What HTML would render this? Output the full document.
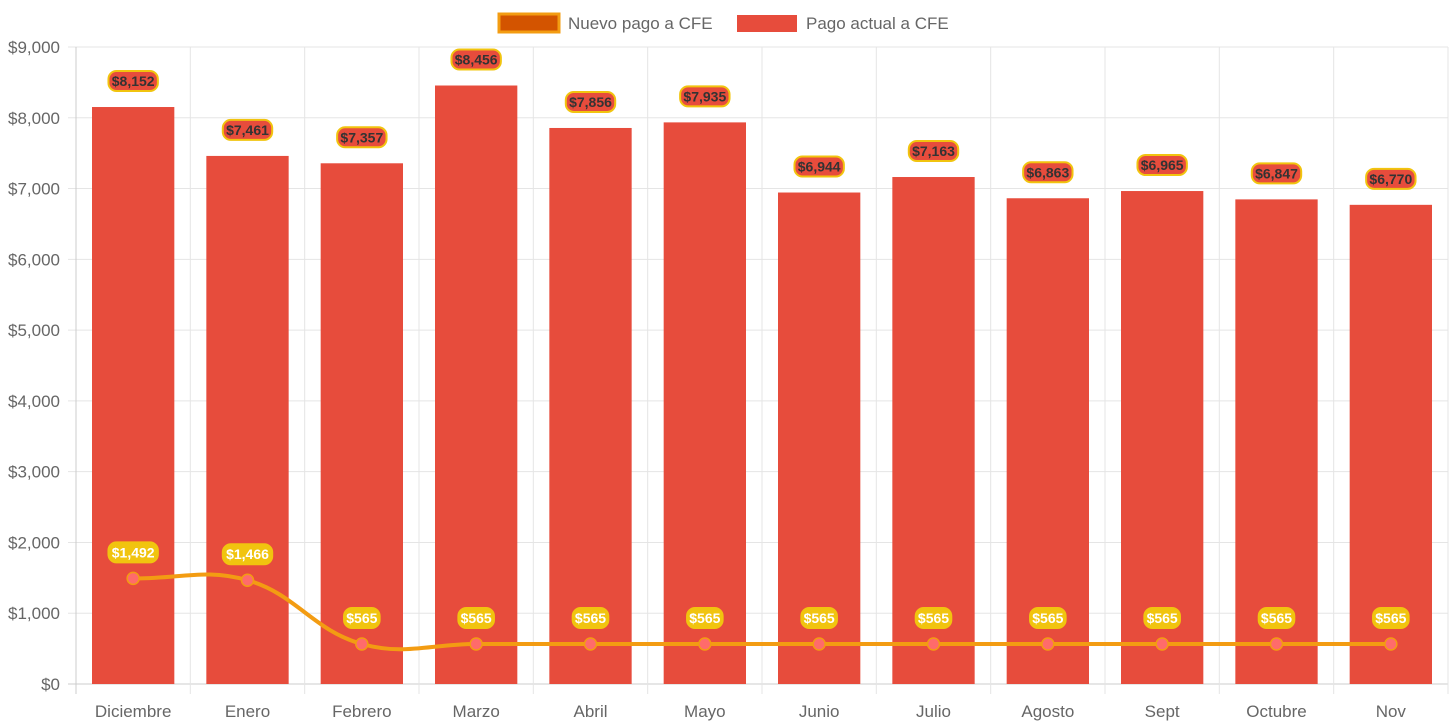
<!DOCTYPE html>
<html><head><meta charset="utf-8"><style>
html,body{margin:0;padding:0;background:#fff;}
svg{display:block;font-family:"Liberation Sans",Arial,sans-serif;}
</style></head><body>
<svg id="chart" width="1456" height="727" viewBox="0 0 1456 727">
<g id="legend">
 <g>
  <rect x="499" y="14" width="60" height="18" fill="#d35400" stroke="#f39c12" stroke-width="3"/>
  <text x="568" y="29" font-size="17" fill="#666">Nuevo pago a CFE</text>
 </g>
 <g>
  <rect x="737" y="15" width="60" height="17" fill="#e74c3c"/>
  <text x="806" y="29" font-size="17" fill="#666">Pago actual a CFE</text>
 </g>
</g>
<g id="grid"></g><g id="bars"></g><g id="line"></g><g id="labels"></g>
</svg>
<script>
const categories=["Diciembre","Enero","Febrero","Marzo","Abril","Mayo","Junio","Julio","Agosto","Sept","Octubre","Nov"];
const actualValues=[8152,7461,7357,8456,7856,7935,6944,7163,6863,6965,6847,6770];
const newValues=[1492,1466,565,565,565,565,565,565,565,565,565,565];
const yTicks=[0,1000,2000,3000,4000,5000,6000,7000,8000,9000];
const NS="http://www.w3.org/2000/svg";
const L=76,R=1448,T=47,B=684,YMAX=9000;
const step=(R-L)/categories.length;
const x=i=>L+step*(i+0.5);
const y=v=>B-(v/YMAX)*(B-T);
const fmt=v=>"$"+v.toLocaleString("en-US");
function mk(tag,attrs,parent){const e=document.createElementNS(NS,tag);for(const k in attrs)e.setAttribute(k,attrs[k]);parent.appendChild(e);return e;}
const grid=document.getElementById("grid"),bars=document.getElementById("bars"),line=document.getElementById("line"),labels=document.getElementById("labels");
yTicks.forEach(t=>{
 const g=mk("line",{x1:68,x2:R,y1:y(t),y2:y(t),stroke:t===0?"#ccc":"#e5e5e5","stroke-width":1},grid);
 
 
 const tx=mk("text",{x:60,y:y(t)+6,"text-anchor":"end","font-size":17,fill:"#666"},grid);
 tx.textContent=fmt(t);
 
 
});
for(let i=0;i<=categories.length;i++){
 const gx=L+step*i;
 const g=mk("line",{x1:gx,x2:gx,y1:T,y2:B+10,stroke:i===0?"#ccc":"#e5e5e5","stroke-width":1},grid);
 
 
}
categories.forEach((c,i)=>{
 const tx=mk("text",{x:x(i),y:717,"text-anchor":"middle","font-size":17,fill:"#666"},grid);
 tx.textContent=c;
 
 
});
const bw=step*0.72;
actualValues.forEach((v,i)=>{
 const r=mk("rect",{x:x(i)-bw/2,y:y(v),width:bw,height:B-y(v),fill:"#e74c3c"},bars);
 
 
});
const pts=newValues.map((v,i)=>[x(i),y(v)]);
let d="M"+pts[0][0]+","+pts[0][1];
const cps=pts.map((p,i)=>{
 const pr=pts[Math.max(i-1,0)],nx=pts[Math.min(i+1,pts.length-1)];
 const d01=Math.hypot(p[0]-pr[0],p[1]-pr[1]),d12=Math.hypot(nx[0]-p[0],nx[1]-p[1]);
 let fa=d01/(d01+d12)||0,fb=d12/(d01+d12)||0;fa*=0.4;fb*=0.4;
 return {p:[p[0]-fa*(nx[0]-pr[0]),p[1]-fa*(nx[1]-pr[1])],n:[p[0]+fb*(nx[0]-pr[0]),p[1]+fb*(nx[1]-pr[1])]};
});
for(let i=1;i<pts.length;i++){d+=" C"+cps[i-1].n.join(",")+" "+cps[i].p.join(",")+" "+pts[i].join(",");}
const path=mk("path",{d:d,fill:"none",stroke:"#f39c12","stroke-width":4},line);


pts.forEach((p,i)=>{
 const c=mk("circle",{cx:p[0],cy:p[1],r:6,fill:"#ff6b6b",stroke:"#f39c12","stroke-width":1.5},line);
 
 
});
function pill(cx,cy,text,fill,stroke,color,name){
 const w=text.length*6.9+8;
 const g=mk("g",{},labels);
 
 
 mk("rect",{x:cx-w/2,y:cy-10,width:w,height:20,rx:8,fill:fill,stroke:stroke,"stroke-width":2},g);
 const t=mk("text",{x:cx,y:cy+5,"text-anchor":"middle","font-size":14,"font-weight":"bold",fill:color},g);
 t.textContent=text;
}
actualValues.forEach((v,i)=>pill(x(i),y(v)-26,fmt(v),"#e74c3c","#f1c40f","#333","bar-value-label"));
newValues.forEach((v,i)=>pill(x(i),y(v)-26,fmt(v),"#f1c40f","#f1c40f","#fff","line-value-label"));
</script>
</body></html>
